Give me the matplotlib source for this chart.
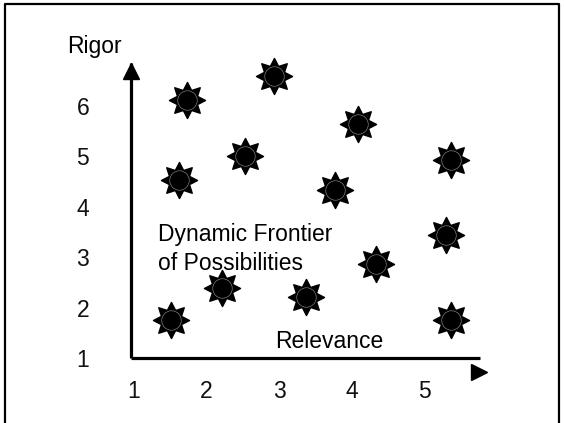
import numpy as np
import matplotlib.pyplot as plt
from matplotlib.path import Path
from matplotlib.lines import Line2D

plt.rcParams['font.family'] = ['Liberation Sans', 'DejaVu Sans']

# Points on the frontier (relevance, rigor)
relevance = [1.51, 1.73, 2.93, 1.62, 2.53, 4.09, 3.77, 5.37, 5.30, 4.34, 2.21, 3.37, 5.37]
rigor = [1.75, 6.12, 6.60, 4.53, 5.01, 5.64, 4.33, 4.93, 3.44, 2.87, 2.39, 2.21, 1.75]

x_ticks = [1, 2, 3, 4, 5]
y_ticks = [1, 2, 3, 4, 5, 6]

FS = 16.5

fig = plt.figure(figsize=(5.64, 4.23), dpi=100)
ax = fig.add_axes([131 / 564, 1 - 358 / 423, (480 - 131) / 564, (358 - 63) / 423])
ax.set_xlim(0.9586, 5.772)
ax.set_ylim(1.0, 6.853)

for s in ['top', 'right']:
    ax.spines[s].set_visible(False)
for s in ['left', 'bottom']:
    ax.spines[s].set_linewidth(2.3)
    ax.spines[s].set_capstyle('butt')

ax.set_xticks(x_ticks)
ax.set_yticks(y_ticks)
ax.set_xticklabels([str(t) for t in x_ticks], fontsize=FS, color='#111111')
ax.set_yticklabels([str(t) for t in y_ticks], fontsize=FS, color='#111111')
ax.tick_params(axis='x', length=0, pad=16)
ax.tick_params(axis='y', length=0, pad=30)

# arrow heads
ax.plot([0.9586], [6.70], marker='^', markersize=11, color='black', clip_on=False)
ax.plot([5.76], [0.722], marker='>', markersize=11, color='black', clip_on=False)

# 8-point star marker
n = 8
ang = np.pi / 2 + np.arange(2 * n) * np.pi / n
rad = np.where(np.arange(2 * n) % 2 == 0, 1.0, 0.6)
verts = np.column_stack([rad * np.cos(ang), rad * np.sin(ang)])
verts = np.vstack([verts, verts[:1]])
star = Path(verts, closed=True)

ax.plot(relevance, rigor, linestyle='none', marker=star, markersize=26,
        color='black', clip_on=False)
ax.plot(relevance, rigor, linestyle='none', marker='o', markersize=14,
        markerfacecolor='none', markeredgecolor='#999999', markeredgewidth=0.4,
        clip_on=False)

fig.text(94 / 564, 1 - 47 / 423, 'Rigor', fontsize=FS, ha='center', va='center')
fig.text(329 / 564, 1 - 342 / 423, 'Relevance', fontsize=FS, ha='center', va='center')
fig.text(158 / 564, 1 - 234 / 423, 'Dynamic Frontier', fontsize=FS, ha='left', va='center')
fig.text(158 / 564, 1 - 263 / 423, 'of Possibilities', fontsize=FS, ha='left', va='center')

# frame (no bottom edge)
fx = [5 / 564, 5 / 564, 559 / 564, 559 / 564]
fy = [0, 1 - 4 / 423, 1 - 4 / 423, 0]
fig.add_artist(Line2D(fx, fy, color='black', linewidth=1.6, transform=fig.transFigure))

fig.savefig('out.png', dpi=100)
